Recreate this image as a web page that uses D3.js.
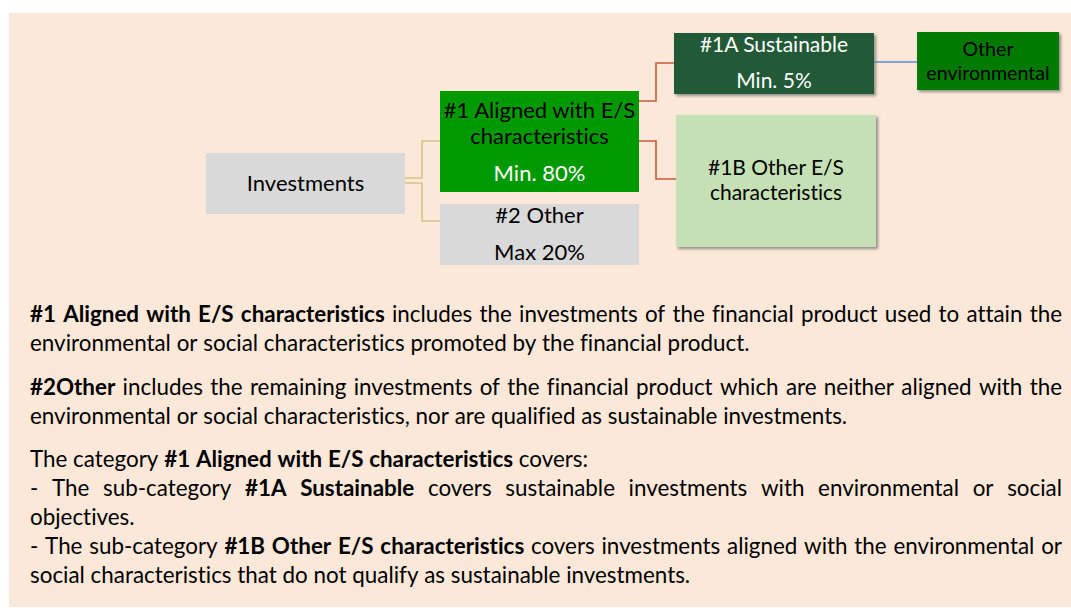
<!DOCTYPE html>
<html>
<head>
<meta charset="utf-8">
<script src="https://cdn.jsdelivr.net/npm/d3@7"></script>
<style>
  body { margin: 0; background: #fff; }
  svg { display: block; font-family: Lato, "Open Sans", sans-serif; font-variant-ligatures: none; }
</style>
</head>
<body>
<div class="chart"></div>
<script>
// Diagram content.
const nodeIds = ["inv", "a1", "o2", "a1A", "a1B", "env"];
const nodeLabels = [
  ["Investments"],
  ["#1 Aligned with E/S", "characteristics"],
  ["#2 Other"],
  ["#1A Sustainable"],
  ["#1B Other E/S", "characteristics"],
  ["Other", "environmental"],
];
const nodeShares = ["", "Min. 80%", "Max 20%", "Min. 5%", "", ""];
const linkSources = ["inv", "inv", "a1", "a1", "a1A"];
const linkTargets = ["a1", "o2", "a1A", "a1B", "env"];

// Explanatory text, one entry per printed line: [text, bold] segments.
const textLines = [
  [["#1 Aligned with E/S characteristics", true], [" includes the investments of the financial product used to attain the", false]],
  [["environmental or social characteristics promoted by the financial product.", false]],
  [["#2Other", true], [" includes the remaining investments of the financial product which are neither aligned with the", false]],
  [["environmental or social characteristics, nor are qualified as sustainable investments.", false]],
  [["The category ", false], ["#1 Aligned with E/S characteristics", true], [" covers:", false]],
  [["- The sub-category ", false], ["#1A Sustainable", true], [" covers sustainable investments with environmental or social", false]],
  [["objectives.", false]],
  [["- The sub-category ", false], ["#1B Other E/S characteristics", true], [" covers investments aligned with the environmental or", false]],
  [["social characteristics that do not qualify as sustainable investments.", false]],
];
const justified = [true, false, true, false, false, true, false, true, false];

// Layout.
const W = 1071, H = 608;
const box = {
  inv: { x: 206, y: 153, w: 199, h: 61, fill: "#d9d9d9", color: "#000", share: "#000", shadow: false },
  a1: { x: 440, y: 91, w: 199, h: 101, fill: "#009900", color: "#000", share: "#fff", shadow: false },
  o2: { x: 440, y: 204, w: 199, h: 61, fill: "#d9d9d9", color: "#000", share: "#000", shadow: false },
  a1A: { x: 674, y: 33, w: 200, h: 61, fill: "#245a38", color: "#fff", share: "#fff", shadow: true },
  a1B: { x: 676, y: 115, w: 200, h: 132, fill: "#c5e0b4", color: "#000", share: "#000", shadow: true },
  env: { x: 917, y: 32, w: 142, h: 58, fill: "#007a00", color: "#000", share: "#000", shadow: true },
};
// baselines of label lines, then share line
const baselines = {
  inv: [191], a1: [118, 144, 181], o2: [223, 260],
  a1A: [52, 88], a1B: [175, 200], env: [56, 80],
};
const fontSizes = { inv: 22, a1: 22, o2: 22, a1A: 21, a1B: 21, env: 19.6 };
// connector elbows: [y at source, elbow x, y at target, stroke]
const linkShape = [
  [178, 422, 141, "#d6c581"],
  [183, 422, 221, "#d6c581"],
  [101, 656, 63, "#c75a3b"],
  [141, 656, 179, "#c75a3b"],
  [62, null, 62, "#5b8fcf"],
];

const svg = d3.select(".chart").append("svg").attr("width", W).attr("height", H);

const defs = svg.append("defs");
defs.append("filter")
  .attr("id", "shadow")
  .attr("x", "-10%").attr("y", "-10%").attr("width", "130%").attr("height", "130%")
  .append("feDropShadow")
  .attr("dx", 2).attr("dy", 2)
  .attr("stdDeviation", 1.6)
  .attr("flood-color", "#6e6e6e")
  .attr("flood-opacity", 0.75);

svg.append("rect")
  .attr("x", 9).attr("y", 13)
  .attr("width", W - 9).attr("height", H - 14)
  .attr("fill", "#fbe8d8");

// Links.
const linkData = linkSources.map((s, i) => ({ s, t: linkTargets[i], shape: linkShape[i] }));
svg.append("g").attr("class", "links")
  .selectAll("path")
  .data(linkData)
  .join("path")
  .attr("fill", "none")
  .attr("stroke", (d) => d.shape[3])
  .attr("stroke-width", 1.6)
  .attr("d", (d) => {
    const a = box[d.s], b = box[d.t];
    const x1 = a.x + a.w, x2 = b.x;
    const [y1, ex, y2] = d.shape;
    if (ex === null) return `M${x1},${y1}H${x2}`;
    return `M${x1},${y1}H${ex}V${y2}H${x2}`;
  });

// Boxes.
const nodes = nodeIds.map((id, i) => ({ id, lines: nodeLabels[i], share: nodeShares[i] }));
const g = svg.append("g").attr("class", "nodes")
  .selectAll("g")
  .data(nodes)
  .join("g");

g.append("rect")
  .attr("x", (d) => box[d.id].x)
  .attr("y", (d) => box[d.id].y)
  .attr("width", (d) => box[d.id].w)
  .attr("height", (d) => box[d.id].h)
  .attr("fill", (d) => box[d.id].fill)
  .attr("filter", (d) => (box[d.id].shadow ? "url(#shadow)" : null));

g.each(function (d) {
  const b = box[d.id];
  const cx = b.x + b.w / 2;
  const ys = baselines[d.id];
  const sel = d3.select(this);
  d.lines.forEach((line, i) => {
    sel.append("text")
      .attr("x", cx).attr("y", ys[i])
      .attr("text-anchor", "middle")
      .attr("font-size", fontSizes[d.id])
      .attr("fill", b.color)
      .text(line);
  });
  if (d.share) {
    sel.append("text")
      .attr("x", cx).attr("y", ys[d.lines.length])
      .attr("text-anchor", "middle")
      .attr("font-size", fontSizes[d.id])
      .attr("fill", b.share)
      .text(d.share);
  }
});

// Paragraph text.
const left = 30, right = 1062, fs = 22.4;
const lineY = [322, 351, 395, 424, 467, 496, 525, 554, 583];
const textG = svg.append("g").attr("class", "para").attr("font-size", fs).attr("fill", "#000");
const probe = textG.append("text").attr("x", -1000).attr("y", -1000);
function measure(str, bold) {
  probe.attr("font-weight", bold ? "bold" : "normal").text(str);
  return probe.node().getComputedTextLength();
}
const spaceW = measure("a a", false) - measure("aa", false);

textLines.forEach((segs, li) => {
  // split into words, keep bold flag
  const words = [];
  segs.forEach(([txt, bold]) => {
    const parts = txt.split(" ");
    parts.forEach((p, j) => {
      if (j > 0) words.push({ space: true });
      if (p.length) words.push({ text: p, bold });
    });
  });
  // group word pieces between spaces
  const tokens = [];
  let cur = null;
  words.forEach((w) => {
    if (w.space) { cur = null; return; }
    if (!cur) { cur = { parts: [] }; tokens.push(cur); }
    cur.parts.push(w);
  });
  tokens.forEach((t) => {
    t.w = d3.sum(t.parts, (p) => measure(p.text, p.bold));
  });
  const natural = d3.sum(tokens, (t) => t.w);
  const gap = justified[li] && tokens.length > 1
    ? (right - left - natural) / (tokens.length - 1)
    : spaceW;
  let x = left;
  const t = textG.append("text").attr("y", lineY[li]);
  tokens.forEach((tok) => {
    let px = x;
    tok.parts.forEach((p) => {
      t.append("tspan")
        .attr("x", px)
        .attr("font-weight", p.bold ? "bold" : "normal")
        .text(p.text);
      px += measure(p.text, p.bold);
    });
    x += tok.w + gap;
  });
});
probe.remove();
</script>
</body>
</html>
